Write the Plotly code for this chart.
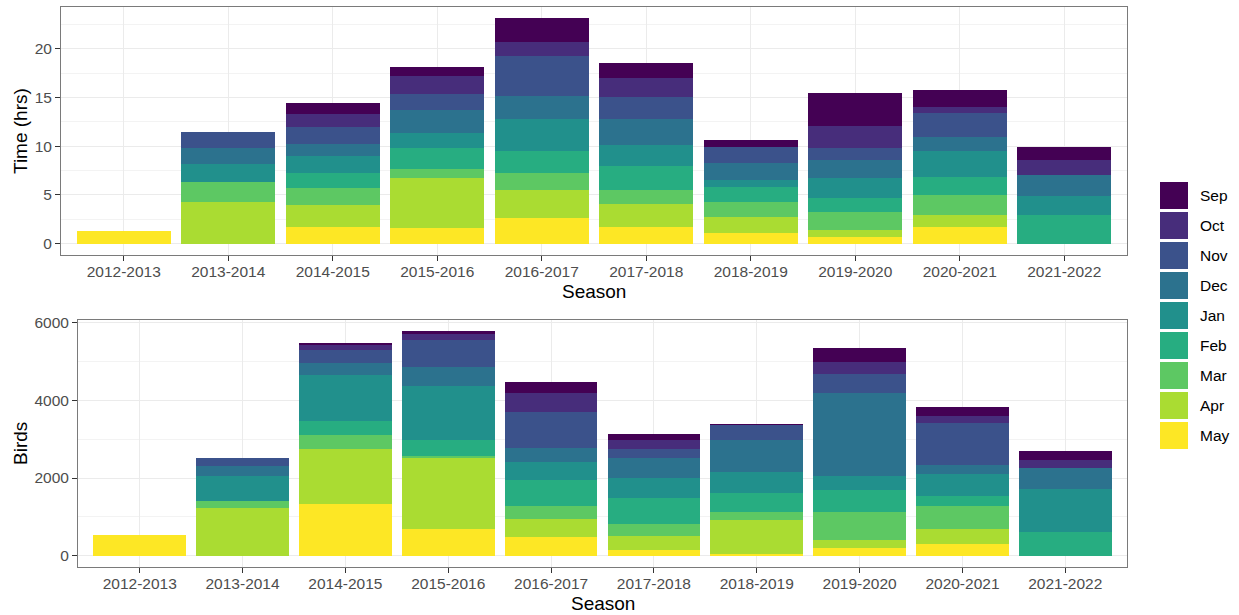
import plotly.graph_objects as go

W, H = 1239, 615

seasons = ["2012-2013", "2013-2014", "2014-2015", "2015-2016", "2016-2017",
           "2017-2018", "2018-2019", "2019-2020", "2020-2021", "2021-2022"]
months = ["Sep", "Oct", "Nov", "Dec", "Jan", "Feb", "Mar", "Apr", "May"]
colors = ["#440154", "#472D7B", "#3B528B", "#2C728E", "#21908C",
          "#27AD81", "#5DC863", "#AADC32", "#FDE725"]

# Time (hrs) per month, by season
hrs_sep = [None, None, 1.13, 0.92, 2.43, 1.51, 0.65, 3.32, 1.77, 1.37]
hrs_oct = [None, None, 1.30, 1.84, 1.43, 1.95, None, 2.25, 0.55, 1.47]
hrs_nov = [None, 1.67, 1.74, 1.61, 4.13, 2.25, 1.71, 1.23, 2.52, None]
hrs_dec = [None, 1.57, 1.26, 2.36, 2.33, 2.66, 1.67, 1.84, 1.40, 2.22]
hrs_jan = [None, 1.84, 1.71, 1.51, 3.28, 2.15, 0.72, 2.11, 2.69, 1.91]
hrs_feb = [None, None, 1.54, 2.21, 2.25, 2.53, 1.54, 1.40, 1.89, 2.94]
hrs_mar = [None, 2.11, 1.80, 0.92, 1.81, 1.43, 1.54, 1.84, 1.98, None]
hrs_apr = [None, 4.27, 2.25, 5.09, 2.80, 2.32, 1.67, 0.79, 1.26, None]
hrs_may = [1.33, None, 1.71, 1.64, 2.66, 1.71, 1.10, 0.65, 1.71, None]

# Birds per month, by season
birds_sep = [None, None, 60, 68, 273, 145, 20, 350, 237, 230]
birds_oct = [None, None, 120, 153, 500, 237, None, 314, 171, 212]
birds_nov = [None, 214, 340, 700, 919, 230, 391, 485, 1080, None]
birds_dec = [None, 237, 299, 485, 357, 521, 825, 2137, 237, 528]
birds_jan = [None, 646, 1200, 1404, 452, 511, 528, 357, 554, 1105]
birds_feb = [None, None, 357, 390, 682, 671, 503, 580, 273, 623]
birds_mar = [None, 197, 357, 50, 322, 299, 204, 723, 595, None]
birds_apr = [None, 1218, 1430, 1846, 460, 365, 876, 197, 383, None]
birds_may = [540, None, 1320, 682, 495, 145, 43, 204, 299, None]

hrs = [hrs_sep, hrs_oct, hrs_nov, hrs_dec, hrs_jan, hrs_feb, hrs_mar, hrs_apr, hrs_may]
birds = [birds_sep, birds_oct, birds_nov, birds_dec, birds_jan, birds_feb,
         birds_mar, birds_apr, birds_may]

FONT = "Liberation Sans, Arial, sans-serif"
TICKCOL = "#4D4D4D"

fig = go.Figure()
# bottom of stack first: May ... Sep
for i in reversed(range(len(months))):
    fig.add_trace(go.Bar(x=seasons, y=hrs[i], name=months[i], marker_color=colors[i],
                         marker_line_width=0, xaxis="x", yaxis="y", showlegend=False))
    fig.add_trace(go.Bar(x=seasons, y=birds[i], name=months[i], marker_color=colors[i],
                         marker_line_width=0, xaxis="x2", yaxis="y2", showlegend=False))

def px_x(p):
    return p / W

def px_y(p):
    return 1 - p / H

def tot_max(series):
    return max(sum(v for v in col if v is not None) for col in zip(*series))

hmax = tot_max(hrs)
bmax = tot_max(birds)

common_x = dict(type="category", range=[-0.6, len(seasons) - 0.4], showgrid=True,
                gridcolor="#EBEBEB", gridwidth=1, ticks="outside", ticklen=5,
                tickcolor="#333333", tickwidth=1, showline=True, linecolor="#7a7a7a",
                linewidth=1, mirror=True, zeroline=False, ticklabelstandoff=-3,
                tickfont=dict(family=FONT, size=15.5, color=TICKCOL), automargin=False)
common_y = dict(showgrid=True, gridcolor="#EBEBEB", gridwidth=1, ticks="outside",
                ticklen=5, tickcolor="#333333", tickwidth=1, showline=True,
                linecolor="#7a7a7a", linewidth=1, mirror=True, zeroline=False,
                tickfont=dict(family=FONT, size=15.5, color=TICKCOL), automargin=False)

fig.update_layout(
    width=W, height=H, barmode="stack", bargap=0.1,
    margin=dict(l=0, r=0, t=0, b=0),
    paper_bgcolor="white", plot_bgcolor="white",
    font=dict(family=FONT),
    xaxis=dict(common_x, domain=[px_x(61), px_x(1127)], anchor="y"),
    yaxis=dict(common_y, domain=[px_y(255), px_y(7)], anchor="x",
               range=[-0.05 * hmax, 1.05 * hmax], tick0=0, dtick=5,
               minor=dict(dtick=2.5, tick0=0, showgrid=True, gridcolor="#F3F3F3",
                          gridwidth=1, ticks="")),
    xaxis2=dict(common_x, domain=[px_x(78), px_x(1127)], anchor="y2"),
    yaxis2=dict(common_y, domain=[px_y(567), px_y(320)], anchor="x2",
                range=[-0.05 * bmax, 1.05 * bmax], tick0=0, dtick=2000,
                minor=dict(dtick=1000, tick0=0, showgrid=True, gridcolor="#F3F3F3",
                           gridwidth=1, ticks="")),
)

# axis titles
annos = [
    dict(text="Season", x=px_x((61 + 1127) / 2), y=px_y(291)),
    dict(text="Season", x=px_x((78 + 1127) / 2), y=px_y(603)),
    dict(text="Time (hrs)", x=px_x(20), y=px_y(131), textangle=-90),
    dict(text="Birds", x=px_x(20), y=px_y(443), textangle=-90),
]
for a in annos:
    fig.add_annotation(xref="paper", yref="paper", showarrow=False,
                       xanchor="center", yanchor="middle",
                       font=dict(family=FONT, size=19, color="black"), **a)

# legend (ggplot-style large keys)
key_x0, key_x1 = 1160, 1188
key_top, key_h, key_pitch = 182, 27, 30
for i, m in enumerate(months):
    y0 = key_top + i * key_pitch
    fig.add_shape(type="rect", xref="paper", yref="paper",
                  x0=px_x(key_x0), x1=px_x(key_x1), y0=px_y(y0 + key_h), y1=px_y(y0),
                  fillcolor=colors[i], line_width=0)
    fig.add_annotation(xref="paper", yref="paper", showarrow=False,
                       x=px_x(1198), y=px_y(y0 + key_h / 2), xanchor="left",
                       yanchor="middle", text=m,
                       font=dict(family=FONT, size=15.5, color="black"))

fig.write_html("out.html", config={"displayModeBar": False},
               post_script="document.body.style.margin='0';document.body.style.overflow='hidden';")
